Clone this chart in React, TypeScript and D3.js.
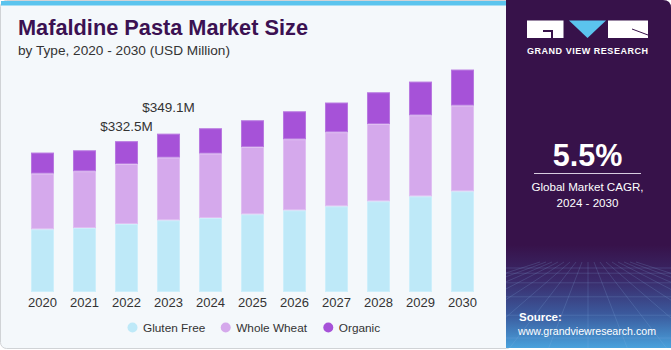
import { useMemo } from "react";
import * as d3 from "d3";

const years = ["2020", "2021", "2022", "2023", "2024", "2025", "2026", "2027", "2028", "2029", "2030"];
const glutenFree = [138.3, 141.1, 150.0, 158.1, 163.2, 171.3, 180.1, 189.0, 200.0, 211.0, 222.0];
const wholeWheat = [122.8, 125.0, 132.3, 138.3, 142.0, 148.4, 156.6, 163.2, 170.4, 178.6, 189.0];
const organic = [46.3, 46.3, 50.2, 52.7, 55.8, 58.9, 61.7, 65.5, 69.9, 74.3, 79.4];

const seriesNames = ["Gluten Free", "Whole Wheat", "Organic"];
const colors = ["#bee9f8", "#d5a9ec", "#a652d8"];
const strokes = ["#cdeffb", "#e0bff2", "#b878e0"];

const callouts = [
    { year: "2022", text: "$332.5M", dy: 10 },
    { year: "2023", text: "$349.1M", dy: 22 },
];

const W = 671;
const H = 350;
const FONT = "'Liberation Sans', Arial, sans-serif";
const PANEL_X = 506;

export default function App() {
    const rows = useMemo(
        () =>
            years.map((y, i) => ({
                year: y,
                "Gluten Free": glutenFree[i],
                "Whole Wheat": wholeWheat[i],
                Organic: organic[i],
            })),
        []
    );

    const stacked = useMemo(() => d3.stack<any>().keys(seriesNames)(rows), [rows]);

    const x = d3.scaleBand().domain(years).range([21.5, 483.5]).paddingInner(0.452).paddingOuter(0.226);
    const y = d3.scaleLinear().domain([0, 500]).range([292, 65.2]);

    const totals = years.map((_, i) => glutenFree[i] + wholeWheat[i] + organic[i]);

    // faint grid in the bottom of the side panel
    const gridLines = useMemo(() => {
        const lines: string[] = [];
        const cx = PANEL_X + 82;
        for (let k = -8; k <= 8; k++) {
            lines.push(`M${cx + k * 6},262 L${cx + k * 40},350`);
        }
        for (let k = 0; k < 7; k++) {
            const yy = 268 + k * k * 2.2 + k * 3;
            lines.push(`M${PANEL_X},${yy} L${W},${yy}`);
        }
        return lines;
    }, []);

    return (
        <svg
            width={W}
            height={H}
            style={{ position: "absolute", left: 0, top: 0, fontFamily: FONT }}
        >
            <defs>
                <linearGradient id="panelGrad" x1="0" y1="0" x2="0" y2="1">
                    <stop offset="0" stopColor="#37124a" />
                    <stop offset="0.7" stopColor="#37124a" />
                    <stop offset="0.8" stopColor="#3a2a6a" />
                    <stop offset="0.9" stopColor="#3b5b9e" />
                    <stop offset="1" stopColor="#4aa6e0" />
                </linearGradient>
                <clipPath id="panelClip">
                    <path d={`M${PANEL_X},0 H${W - 8} Q${W},0 ${W},8 V${H - 2} H${PANEL_X} Z`} />
                </clipPath>
            </defs>

            {/* left card */}
            <rect x={0.5} y={0.5} width={PANEL_X + 6} height={H - 2} rx={6} fill="#f4f8fb" stroke="#d0d3d6" />
            <rect x={1} y={1} width={PANEL_X} height={4.5} fill="#5bc4ee" />

            {/* titles */}
            <text x={18} y={35} fontSize={22} fontWeight={900} fill="#3b1152" textLength={290} lengthAdjust="spacingAndGlyphs">
                Mafaldine Pasta Market Size
            </text>
            <text x={18} y={55} fontSize={13.5} fill="#333" textLength={212} lengthAdjust="spacingAndGlyphs">
                by Type, 2020 - 2030 (USD Million)
            </text>

            {/* bars */}
            {stacked.map((s, si) => (
                <g key={s.key}>
                    {s.map((d, i) => (
                        <rect
                            key={years[i]}
                            x={x(years[i])! + 0.5}
                            y={y(d[1]) + 0.5}
                            width={x.bandwidth() - 1}
                            height={Math.max(0, y(d[0]) - y(d[1]) - 1)}
                            fill={colors[si]}
                            stroke={strokes[si]}
                            strokeWidth={1}
                        />
                    ))}
                </g>
            ))}

            {/* callouts */}
            {callouts.map((c) => {
                const i = years.indexOf(c.year);
                return (
                    <text
                        key={c.year}
                        x={x(c.year)! + x.bandwidth() / 2}
                        y={y(totals[i]) - c.dy}
                        textAnchor="middle"
                        fontSize={13.5}
                        fill="#333"
                    >
                        {c.text}
                    </text>
                );
            })}

            {/* x axis labels */}
            {years.map((yr) => (
                <text
                    key={yr}
                    x={x(yr)! + x.bandwidth() / 2}
                    y={307}
                    textAnchor="middle"
                    fontSize={13}
                    fill="#333"
                >
                    {yr}
                </text>
            ))}

            {/* legend */}
            {seriesNames.map((n, i) => {
                const lx = [132.5, 225.7, 328.3][i];
                return (
                    <g key={n}>
                        <circle cx={lx} cy={327.5} r={5} fill={colors[i]} />
                        <text x={lx + 10.5} y={332} fontSize={11.8} fill="#333">
                            {n}
                        </text>
                    </g>
                );
            })}

            {/* right panel */}
            <g clipPath="url(#panelClip)">
                <rect x={PANEL_X} y={0} width={W - PANEL_X} height={H} fill="url(#panelGrad)" />
                <g stroke="#8fb6e6" strokeOpacity={0.28} strokeWidth={0.7} fill="none">
                    {gridLines.map((d, i) => (
                        <path key={i} d={d} />
                    ))}
                </g>
            </g>

            {/* logo */}
            <g>
                <rect x={527} y={20.5} width={36.5} height={17.5} fill="#ffffff" />
                <path d="M543,30 H553 V38 H551 V32 H543 Z" fill="#37124a" />
                <polygon points="569,20.5 606,20.5 587.5,38" fill="#5bc4ee" />
                <rect x={608} y={20.5} width={40} height={17.5} fill="#ffffff" />
                <line x1={632} y1={29} x2={648} y2={35} stroke="#37124a" strokeWidth={1} />
                <text x={587.5} y={54} textAnchor="middle" fontSize={9} fontWeight={700} fill="#fff" textLength={121} lengthAdjust="spacing">
                    GRAND VIEW RESEARCH
                </text>
            </g>

            <text x={587.5} y={166} textAnchor="middle" fontSize={30.5} fontWeight={700} fill="#fff">
                5.5%
            </text>
            <line x1={534} x2={641} y1={173.5} y2={173.5} stroke="#d8cde0" strokeWidth={1} />
            <text x={587.5} y={191} textAnchor="middle" fontSize={11.6} fill="#fff">
                Global Market CAGR,
            </text>
            <text x={587.5} y={207} textAnchor="middle" fontSize={11.6} fill="#fff">
                2024 - 2030
            </text>

            <text x={519} y={321} fontSize={11.5} fontWeight={700} fill="#fff">
                Source:
            </text>
            <text x={518} y={335} fontSize={11} fill="#fff" textLength={138} lengthAdjust="spacingAndGlyphs">
                www.grandviewresearch.com
            </text>
        </svg>
    );
}
